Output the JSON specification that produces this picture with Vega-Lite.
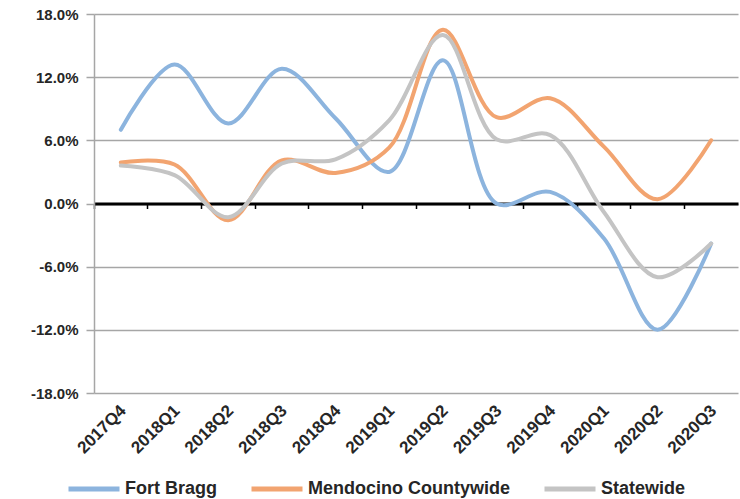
{
  "$schema": "https://vega.github.io/schema/vega-lite/v6.json",
  "width": 644,
  "height": 379,
  "autosize": {"type": "none"},
  "padding": {"left": 94, "top": 14, "right": 2, "bottom": 106},
  "background": "white",
  "config": {
    "view": {"stroke": null},
    "font": "Liberation Sans",
    "locale": {"number": {"decimal": ".", "thousands": ",", "grouping": [3], "currency": ["$", ""], "minus": "-"}}
  },
  "data": {
    "values": [
      {"q": "2017Q4", "series": "Fort Bragg", "v": 0.070},
      {"q": "2018Q1", "series": "Fort Bragg", "v": 0.132},
      {"q": "2018Q2", "series": "Fort Bragg", "v": 0.076},
      {"q": "2018Q3", "series": "Fort Bragg", "v": 0.128},
      {"q": "2018Q4", "series": "Fort Bragg", "v": 0.081},
      {"q": "2019Q1", "series": "Fort Bragg", "v": 0.030},
      {"q": "2019Q2", "series": "Fort Bragg", "v": 0.136},
      {"q": "2019Q3", "series": "Fort Bragg", "v": 0.000},
      {"q": "2019Q4", "series": "Fort Bragg", "v": 0.011},
      {"q": "2020Q1", "series": "Fort Bragg", "v": -0.033},
      {"q": "2020Q2", "series": "Fort Bragg", "v": -0.120},
      {"q": "2020Q3", "series": "Fort Bragg", "v": -0.038},
      {"q": "2017Q4", "series": "Mendocino Countywide", "v": 0.039},
      {"q": "2018Q1", "series": "Mendocino Countywide", "v": 0.037},
      {"q": "2018Q2", "series": "Mendocino Countywide", "v": -0.016},
      {"q": "2018Q3", "series": "Mendocino Countywide", "v": 0.041},
      {"q": "2018Q4", "series": "Mendocino Countywide", "v": 0.029},
      {"q": "2019Q1", "series": "Mendocino Countywide", "v": 0.053},
      {"q": "2019Q2", "series": "Mendocino Countywide", "v": 0.165},
      {"q": "2019Q3", "series": "Mendocino Countywide", "v": 0.082},
      {"q": "2019Q4", "series": "Mendocino Countywide", "v": 0.100},
      {"q": "2020Q1", "series": "Mendocino Countywide", "v": 0.054},
      {"q": "2020Q2", "series": "Mendocino Countywide", "v": 0.004},
      {"q": "2020Q3", "series": "Mendocino Countywide", "v": 0.060},
      {"q": "2017Q4", "series": "Statewide", "v": 0.036},
      {"q": "2018Q1", "series": "Statewide", "v": 0.027},
      {"q": "2018Q2", "series": "Statewide", "v": -0.013},
      {"q": "2018Q3", "series": "Statewide", "v": 0.038},
      {"q": "2018Q4", "series": "Statewide", "v": 0.042},
      {"q": "2019Q1", "series": "Statewide", "v": 0.079},
      {"q": "2019Q2", "series": "Statewide", "v": 0.160},
      {"q": "2019Q3", "series": "Statewide", "v": 0.061},
      {"q": "2019Q4", "series": "Statewide", "v": 0.065},
      {"q": "2020Q1", "series": "Statewide", "v": -0.008},
      {"q": "2020Q2", "series": "Statewide", "v": -0.070},
      {"q": "2020Q3", "series": "Statewide", "v": -0.038}
    ]
  },
  "resolve": {"axis": {"x": "independent"}},
  "layer": [
    {
      "mark": {"type": "line", "interpolate": "catmull-rom", "strokeWidth": 4, "strokeCap": "round"},
      "encoding": {
        "x": {
          "field": "q", "type": "ordinal", "sort": null,
          "scale": {"type": "band", "paddingInner": 0, "paddingOuter": 0},
          "axis": {
            "orient": "bottom", "title": null, "labelAngle": -45, "ticks": false, "domain": false, "grid": false,
            "labelFont": "Liberation Sans", "labelFontSize": 17, "labelFontWeight": "bold", "labelColor": "#262626",
            "labelPadding": 9, "labelOffset": -3
          }
        },
        "y": {
          "field": "v", "type": "quantitative",
          "scale": {"domain": [-0.18, 0.18], "nice": false, "zero": false},
          "axis": {
            "title": null, "format": ".1%", "values": [-0.18, -0.12, -0.06, 0, 0.06, 0.12, 0.18],
            "grid": true, "gridColor": "#a6a6a6", "gridWidth": 1.5,
            "domain": true, "domainColor": "#a6a6a6", "domainWidth": 1.5,
            "ticks": true, "tickColor": "#a6a6a6", "tickSize": 8, "tickWidth": 1.5,
            "labelFont": "Liberation Sans", "labelFontSize": 15, "labelFontWeight": "bold", "labelColor": "#262626",
            "labelPadding": 8
          }
        },
        "color": {
          "field": "series", "type": "nominal",
          "scale": {"domain": ["Fort Bragg", "Mendocino Countywide", "Statewide"], "range": ["#8cb4de", "#f2a470", "#c4c4c4"]},
          "legend": {
            "title": null, "orient": "none", "direction": "horizontal", "legendX": -28, "legendY": 447,
            "symbolType": "stroke", "symbolSize": 2601, "symbolStrokeWidth": 5,
            "labelFont": "Liberation Sans", "labelFontSize": 18, "labelFontWeight": "bold", "labelColor": "#262626",
            "labelOffset": 3, "labelLimit": 400, "columnPadding": 24, "padding": 0
          }
        }
      }
    },
    {
      "mark": {"type": "point", "opacity": 0},
      "encoding": {
        "x": {
          "field": "q", "type": "ordinal", "sort": null,
          "axis": {
            "orient": "bottom", "title": null, "labels": false, "grid": false, "offset": -189.5,
            "bandPosition": 0,
            "domain": true, "domainColor": "#000000", "domainWidth": 3,
            "ticks": true, "tickColor": "#000000", "tickSize": 5, "tickWidth": 1.5
          }
        }
      }
    }
  ]
}
